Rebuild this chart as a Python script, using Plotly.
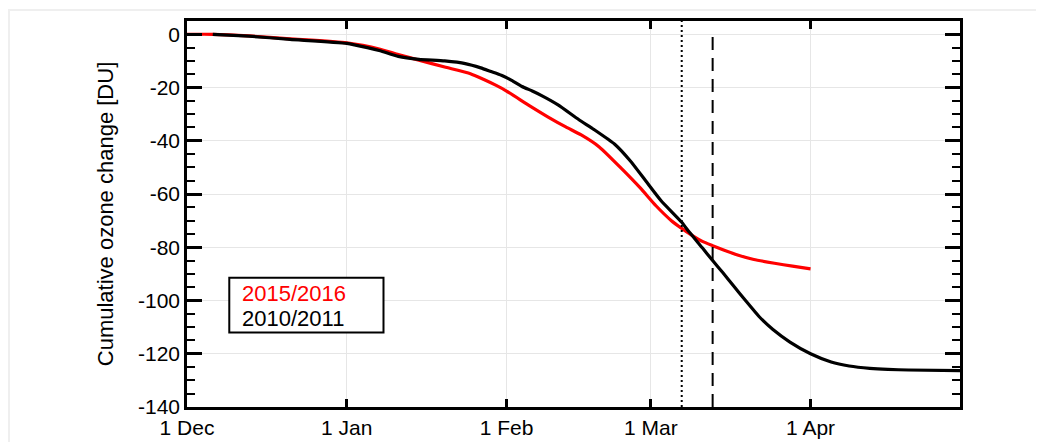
import plotly.graph_objects as go

# x = days since 1 December
days_1516 = [0, 5, 12, 20, 31, 37.5, 41, 45, 50, 55, 57.5, 60, 62, 66.5, 70, 73.5, 76.5, 80, 84, 88, 91, 94, 96, 98, 100, 102, 104, 107, 110, 114, 117.5, 121]
ozone_1516 = [0, 0, -0.6, -1.7, -3.2, -5.6, -7.6, -9.7, -12.3, -14.8, -16.9, -19.2, -21.3, -26.9, -31.0, -34.8, -37.8, -42.3, -49.8, -57.8, -64.4, -70.0, -72.9, -75.5, -77.8, -79.4, -80.9, -83.0, -84.6, -86.0, -87.1, -88.1]

days_1011 = [5, 12, 20, 31, 35, 37.5, 41, 45, 50, 54, 57, 59, 61, 63, 65, 67, 69, 72, 76, 79, 83, 86, 89, 92, 96, 97.5, 100, 102, 104, 106, 108.5, 111, 113.7, 117, 121, 125, 128.5, 132.5, 136, 140, 150]
ozone_1011 = [0, -0.7, -1.9, -3.4, -5.0, -6.2, -8.3, -9.4, -10.0, -11.0, -12.6, -14.0, -15.4, -17.3, -19.6, -21.3, -23.2, -26.5, -32.0, -35.8, -41.3, -47.5, -55.0, -62.5, -70.6, -74.4, -80.2, -85.0, -89.6, -94.4, -100.3, -106.0, -110.9, -115.6, -120.0, -123.1, -124.6, -125.5, -125.9, -126.1, -126.3]

month_days = [0, 31, 62, 90, 121]
month_labels = ["1 Dec", "1 Jan", "1 Feb", "1 Mar", "1 Apr"]
y_ticks = [0, -20, -40, -60, -80, -100, -120, -140]
y_labels = ["0", "-20", "-40", "-60", "-80", "-100", "-120", "-140"]
dotted_day = 96   # 7 Mar
dashed_day = 102  # 13 Mar

FONT = "Liberation Sans, Arial, Helvetica, sans-serif"

fig = go.Figure()
fig.add_trace(go.Scatter(x=days_1516, y=ozone_1516, mode="lines", name="2015/2016",
                         line=dict(color="#ff0000", width=3.2, shape="spline", smoothing=0.5)))
fig.add_trace(go.Scatter(x=days_1011, y=ozone_1011, mode="lines", name="2010/2011",
                         line=dict(color="#000000", width=3.2, shape="spline", smoothing=0.5)))

fig.add_shape(type="line", xref="x", yref="paper", x0=dotted_day, x1=dotted_day, y0=0, y1=1,
              line=dict(color="black", width=2, dash="2px,3px"))
fig.add_shape(type="line", xref="x", yref="paper", x0=dashed_day, x1=dashed_day, y0=0, y1=0.97,
              line=dict(color="black", width=2, dash="13px,8px"))

# legend box
fig.add_shape(type="rect", xref="paper", yref="paper", x0=0.0547, x1=0.2542, y0=0.1927, y1=0.3347,
              line=dict(color="black", width=2), fillcolor="white", layer="above")
fig.add_annotation(xref="paper", yref="paper", x=0.069, y=0.2946, xanchor="left", yanchor="middle",
                   text="2015/2016", showarrow=False, font=dict(family=FONT, size=22, color="#ff0000"))
fig.add_annotation(xref="paper", yref="paper", x=0.069, y=0.229, xanchor="left", yanchor="middle",
                   text="2010/2011", showarrow=False, font=dict(family=FONT, size=22, color="#000000"))

# light figure border
fig.add_shape(type="rect", xref="paper", yref="paper", x0=-0.2302, x1=1.2, y0=-0.3, y1=1.0285,
              line=dict(color="#efefef", width=2), layer="below")

fig.update_layout(
    width=1044, height=442,
    margin=dict(l=179, r=92, t=13, b=43),
    paper_bgcolor="white", plot_bgcolor="white",
    showlegend=False,
    font=dict(family=FONT, size=21, color="black"),
)
fig.update_xaxes(
    automargin=False,
    range=[0, 150], tickmode="array", tickvals=month_days, ticktext=month_labels,
    ticks="inside", ticklen=8, tickwidth=2.5, tickcolor="black",
    showline=True, linecolor="black", linewidth=2.5, mirror="ticks",
    showgrid=True, gridcolor="#e6e6e6", gridwidth=1, zeroline=False,
    tickfont=dict(size=21),
)
fig.update_yaxes(
    automargin=False,
    range=[-140, 5], tickmode="array", tickvals=y_ticks, ticktext=y_labels,
    ticks="inside", ticklen=15, tickwidth=2.5, tickcolor="black",
    minor=dict(ticks="inside", tickmode="linear", dtick=5, tick0=0, ticklen=8, tickwidth=2,
               tickcolor="black", showgrid=False),
    showline=True, linecolor="black", linewidth=2.5, mirror="ticks",
    showgrid=True, gridcolor="#e6e6e6", gridwidth=1, zeroline=False,
    tickfont=dict(size=21),
    title=dict(text="Cumulative ozone change [DU]", font=dict(size=22), standoff=19),
)

fig.write_html("out.html")
